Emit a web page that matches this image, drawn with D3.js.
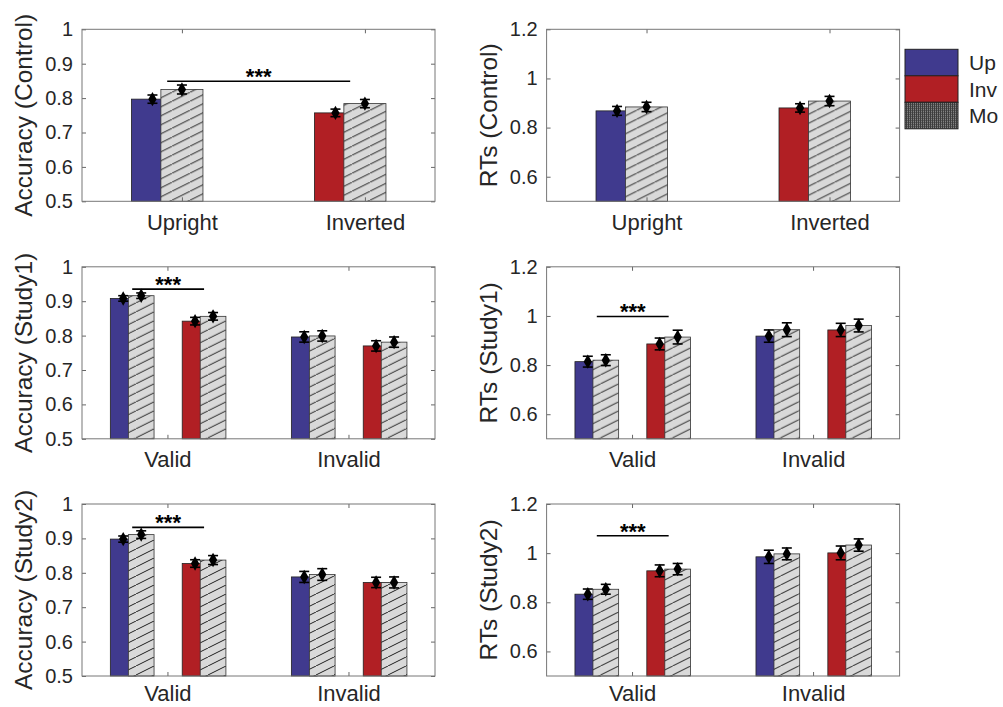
<!DOCTYPE html>
<html>
<head>
<meta charset="utf-8">
<script src="https://cdn.jsdelivr.net/npm/d3@7"></script>
<style>
  body { margin: 0; background: #fff; }
  svg { display: block; }
  text { font-family: 'Liberation Sans', Arial, Helvetica, sans-serif; fill: #262626; }
</style>
</head>
<body>
<svg id="chart" width="1003" height="707"></svg>
<script>
// ---- data ----
var ctrlCats = ["Upright", "Inverted"];
var studyCats = ["Valid", "Invalid"];

// control: one coloured bar (Upright blue / Inverted red) + hatched bar per category
var accCtrl = [0.797, 0.757];
var accCtrlErr = [0.012, 0.011];
var accCtrlH = [0.825, 0.784];
var accCtrlHErr = [0.013, 0.012];

var rtCtrl = [0.868, 0.880];
var rtCtrlErr = [0.018, 0.017];
var rtCtrlH = [0.884, 0.908];
var rtCtrlHErr = [0.019, 0.019];

// study panels: per category (Valid, Invalid) an Upright pair and an Inverted pair
var accS1Up = [0.908, 0.796], accS1UpErr = [0.008, 0.015];
var accS1UpH = [0.916, 0.799], accS1UpHErr = [0.008, 0.015];
var accS1Inv = [0.842, 0.770], accS1InvErr = [0.011, 0.015];
var accS1InvH = [0.856, 0.781], accS1InvHErr = [0.011, 0.015];

var accS2Up = [0.898, 0.788], accS2UpErr = [0.009, 0.016];
var accS2UpH = [0.911, 0.795], accS2UpHErr = [0.011, 0.017];
var accS2Inv = [0.827, 0.772], accS2InvErr = [0.011, 0.015];
var accS2InvH = [0.837, 0.772], accS2InvHErr = [0.013, 0.016];

var rtS1Up = [0.814, 0.918], rtS1UpErr = [0.022, 0.025];
var rtS1UpH = [0.820, 0.944], rtS1UpHErr = [0.022, 0.028];
var rtS1Inv = [0.886, 0.943], rtS1InvErr = [0.024, 0.027];
var rtS1InvH = [0.914, 0.961], rtS1InvHErr = [0.028, 0.026];

var rtS2Up = [0.833, 0.985], rtS2UpErr = [0.021, 0.027];
var rtS2UpH = [0.853, 0.997], rtS2UpHErr = [0.020, 0.024];
var rtS2Inv = [0.928, 1.001], rtS2InvErr = [0.024, 0.028];
var rtS2InvH = [0.935, 1.033], rtS2InvHErr = [0.023, 0.025];

// significance bars (y level)
var sigAccCtrl = 0.849;
var sigAccS1 = 0.935;
var sigRtS1 = 0.998;
var sigAccS2 = 0.932;
var sigRtS2 = 1.071;

var accTicks = [0.5, 0.6, 0.7, 0.8, 0.9, 1];
var rtTicks = [0.6, 0.8, 1, 1.2];

var legendLabels = ["Up", "Inv", "Mo"];

// ---- drawing ----
var blue = "#403a8e", red = "#b11f24", grey = "#d9d9d9";
var svg = d3.select("#chart");
var defs = svg.append("defs");

var hatch = defs.append("pattern")
  .attr("id", "hatch")
  .attr("patternUnits", "userSpaceOnUse")
  .attr("width", 18).attr("height", 9);
hatch.append("path")
  .attr("d", "M-18,9L0,0M0,9L18,0M18,9L36,0")
  .attr("stroke", "#1e1e1e").attr("stroke-width", 1);

var xhatch = defs.append("pattern")
  .attr("id", "xhatch")
  .attr("patternUnits", "userSpaceOnUse")
  .attr("width", 2).attr("height", 2);
xhatch.append("rect").attr("width", 2).attr("height", 2).attr("fill", "#3c3c3c");
xhatch.append("rect").attr("width", 1).attr("height", 1).attr("fill", "#a0a0a0");

var pw = 353, ph = 172;
var colX = [82, 546.6];
var rowY = [29.3, 266.8, 504];
var labelPad = [13.5, 12.5, 9.5];

function ctrlBars(v, ve, h, he) {
  return ctrlCats.map(function(c, i) {
    return { ci: i + 1, off: 0, w: 0.23, color: i === 0 ? blue : red,
             v: v[i], e: ve[i], hv: h[i], he: he[i] };
  });
}

function studyBars(up, upE, upH, upHE, inv, invE, invH, invHE) {
  var out = [];
  studyCats.forEach(function(c, i) {
    out.push({ ci: i + 1, off: -0.145, w: 0.142, color: blue,
               v: up[i], e: upE[i], hv: upH[i], he: upHE[i] });
    out.push({ ci: i + 1, off: 0.252, w: 0.142, color: red,
               v: inv[i], e: invE[i], hv: invH[i], he: invHE[i] });
  });
  return out;
}

var panels = [
  { col: 0, row: 0, ylab: "Accuracy (Control)", cats: ctrlCats, xd: [0.454, 2.383],
    yd: [0.5, 1], ticks: accTicks,
    bars: ctrlBars(accCtrl, accCtrlErr, accCtrlH, accCtrlHErr), sig: [0, 1, sigAccCtrl] },
  { col: 1, row: 0, ylab: "RTs (Control)", cats: ctrlCats, xd: [0.454, 2.383],
    yd: [0.5, 1.2], ticks: rtTicks,
    bars: ctrlBars(rtCtrl, rtCtrlErr, rtCtrlH, rtCtrlHErr), sig: null },
  { col: 0, row: 1, ylab: "Accuracy (Study1)", cats: studyCats, xd: [0.528, 2.478],
    yd: [0.5, 1], ticks: accTicks,
    bars: studyBars(accS1Up, accS1UpErr, accS1UpH, accS1UpHErr, accS1Inv, accS1InvErr, accS1InvH, accS1InvHErr),
    sig: [0, 1, sigAccS1] },
  { col: 1, row: 1, ylab: "RTs (Study1)", cats: studyCats, xd: [0.528, 2.478],
    yd: [0.5, 1.2], ticks: rtTicks,
    bars: studyBars(rtS1Up, rtS1UpErr, rtS1UpH, rtS1UpHErr, rtS1Inv, rtS1InvErr, rtS1InvH, rtS1InvHErr),
    sig: [0, 1, sigRtS1] },
  { col: 0, row: 2, ylab: "Accuracy (Study2)", cats: studyCats, xd: [0.528, 2.478],
    yd: [0.5, 1], ticks: accTicks,
    bars: studyBars(accS2Up, accS2UpErr, accS2UpH, accS2UpHErr, accS2Inv, accS2InvErr, accS2InvH, accS2InvHErr),
    sig: [0, 1, sigAccS2] },
  { col: 1, row: 2, ylab: "RTs (Study2)", cats: studyCats, xd: [0.528, 2.478],
    yd: [0.5, 1.2], ticks: rtTicks,
    bars: studyBars(rtS2Up, rtS2UpErr, rtS2UpH, rtS2UpHErr, rtS2Inv, rtS2InvErr, rtS2InvH, rtS2InvHErr),
    sig: [0, 1, sigRtS2] }
];

var fmt = d3.format("~g");

panels.forEach(function(p) {
  var g = svg.append("g")
    .attr("transform", "translate(" + colX[p.col] + "," + rowY[p.row] + ")");

  var x = d3.scaleLinear().domain(p.xd).range([0, pw]);
  var y = d3.scaleLinear().domain(p.yd).range([ph, 0]);

  // bars
  p.bars.forEach(function(b) {
    var hc = b.ci + b.off;             // hatched bar centre
    var cc = hc - 0.7 * b.w;           // coloured bar centre (partly behind)
    var bw = x(b.w) - x(0);

    g.append("rect")
      .attr("x", x(cc) - bw / 2).attr("width", bw)
      .attr("y", y(b.v)).attr("height", y(p.yd[0]) - y(b.v))
      .attr("fill", b.color).attr("stroke", "#222").attr("stroke-width", 0.8);
    g.append("rect")
      .attr("x", x(hc) - bw / 2).attr("width", bw)
      .attr("y", y(b.hv)).attr("height", y(p.yd[0]) - y(b.hv))
      .attr("fill", grey);
    g.append("rect")
      .attr("x", x(hc) - bw / 2).attr("width", bw)
      .attr("y", y(b.hv)).attr("height", y(p.yd[0]) - y(b.hv))
      .attr("fill", "url(#hatch)").attr("stroke", "#333").attr("stroke-width", 0.8);

    [[cc, b.v, b.e], [hc, b.hv, b.he]].forEach(function(eb) {
      var ex = x(eb[0]);
      var eg = g.append("g").attr("stroke", "#000").attr("stroke-width", 1.6);
      eg.append("line").attr("x1", ex).attr("x2", ex)
        .attr("y1", y(eb[1] - eb[2])).attr("y2", y(eb[1] + eb[2]));
      eg.append("line").attr("x1", ex - 5).attr("x2", ex + 5)
        .attr("y1", y(eb[1] - eb[2])).attr("y2", y(eb[1] - eb[2]));
      eg.append("line").attr("x1", ex - 5).attr("x2", ex + 5)
        .attr("y1", y(eb[1] + eb[2])).attr("y2", y(eb[1] + eb[2]));
      g.append("path")
        .attr("d", d3.symbol().type(d3.symbolDiamond).size(60))
        .attr("transform", "translate(" + ex + "," + y(eb[1]) + ")")
        .attr("fill", "#000");
    });
  });

  // significance line
  if (p.sig) {
    var a = p.bars[p.sig[0]], bb = p.bars[p.sig[1]];
    var x1 = x(a.ci + a.off - 0.35 * a.w), x2 = x(bb.ci + bb.off - 0.35 * bb.w);
    g.append("line")
      .attr("x1", x1).attr("x2", x2)
      .attr("y1", y(p.sig[2])).attr("y2", y(p.sig[2]))
      .attr("stroke", "#000").attr("stroke-width", 1.6);
    g.append("text")
      .attr("x", (x1 + x2) / 2).attr("y", y(p.sig[2]) + 3)
      .attr("text-anchor", "middle")
      .style("font-size", "22px").style("font-weight", "bold").style("fill", "#000")
      .text("***");
  }

  // axes
  var tickCol = "#666";
  var yl = g.append("g").call(d3.axisLeft(y).tickValues(p.ticks).tickFormat(fmt)
    .tickSize(-4).tickPadding(9));
  yl.selectAll("text").style("font-size", "20px");
  var yr = g.append("g").attr("transform", "translate(" + pw + ",0)")
    .call(d3.axisRight(y).tickValues(p.ticks).tickFormat("").tickSize(-4));
  var xb = g.append("g").attr("transform", "translate(0," + ph + ")")
    .call(d3.axisBottom(x).tickValues([1, 2]).tickFormat(function(d) { return p.cats[d - 1]; })
      .tickSize(-4).tickPadding(labelPad[p.row]));
  xb.selectAll("text").style("font-size", "22px");
  var xt = g.append("g")
    .call(d3.axisTop(x).tickValues([1, 2]).tickFormat("").tickSize(-4));
  [yl, yr, xb, xt].forEach(function(ax) {
    ax.select(".domain").remove();
    ax.selectAll("line").attr("stroke", tickCol);
    ax.selectAll("text").attr("fill", "#262626")
      .style("font-family", "'Liberation Sans', Arial, Helvetica, sans-serif");
  });

  g.append("rect")
    .attr("width", pw).attr("height", ph)
    .attr("fill", "none").attr("stroke", "#777").attr("stroke-width", 1);

  g.append("text")
    .attr("transform", "translate(-50," + ph / 2 + ") rotate(-90)")
    .attr("text-anchor", "middle")
    .style("font-size", "24.5px")
    .text(p.ylab);
});

// legend (cut by the figure edge in the original)
var legendFills = [blue, red, "url(#xhatch)"];
var lg = svg.append("g").attr("transform", "translate(905,49.3)");
legendLabels.forEach(function(l, i) {
  lg.append("rect")
    .attr("x", 0).attr("y", i * 26.5)
    .attr("width", 53).attr("height", 26.5)
    .attr("fill", legendFills[i]).attr("stroke", "#222").attr("stroke-width", 1);
  lg.append("text")
    .attr("x", 64).attr("y", i * 26.5 + 13.25)
    .attr("dy", "0.36em")
    .style("font-size", "21px")
    .text(l);
});
</script>
</body>
</html>
